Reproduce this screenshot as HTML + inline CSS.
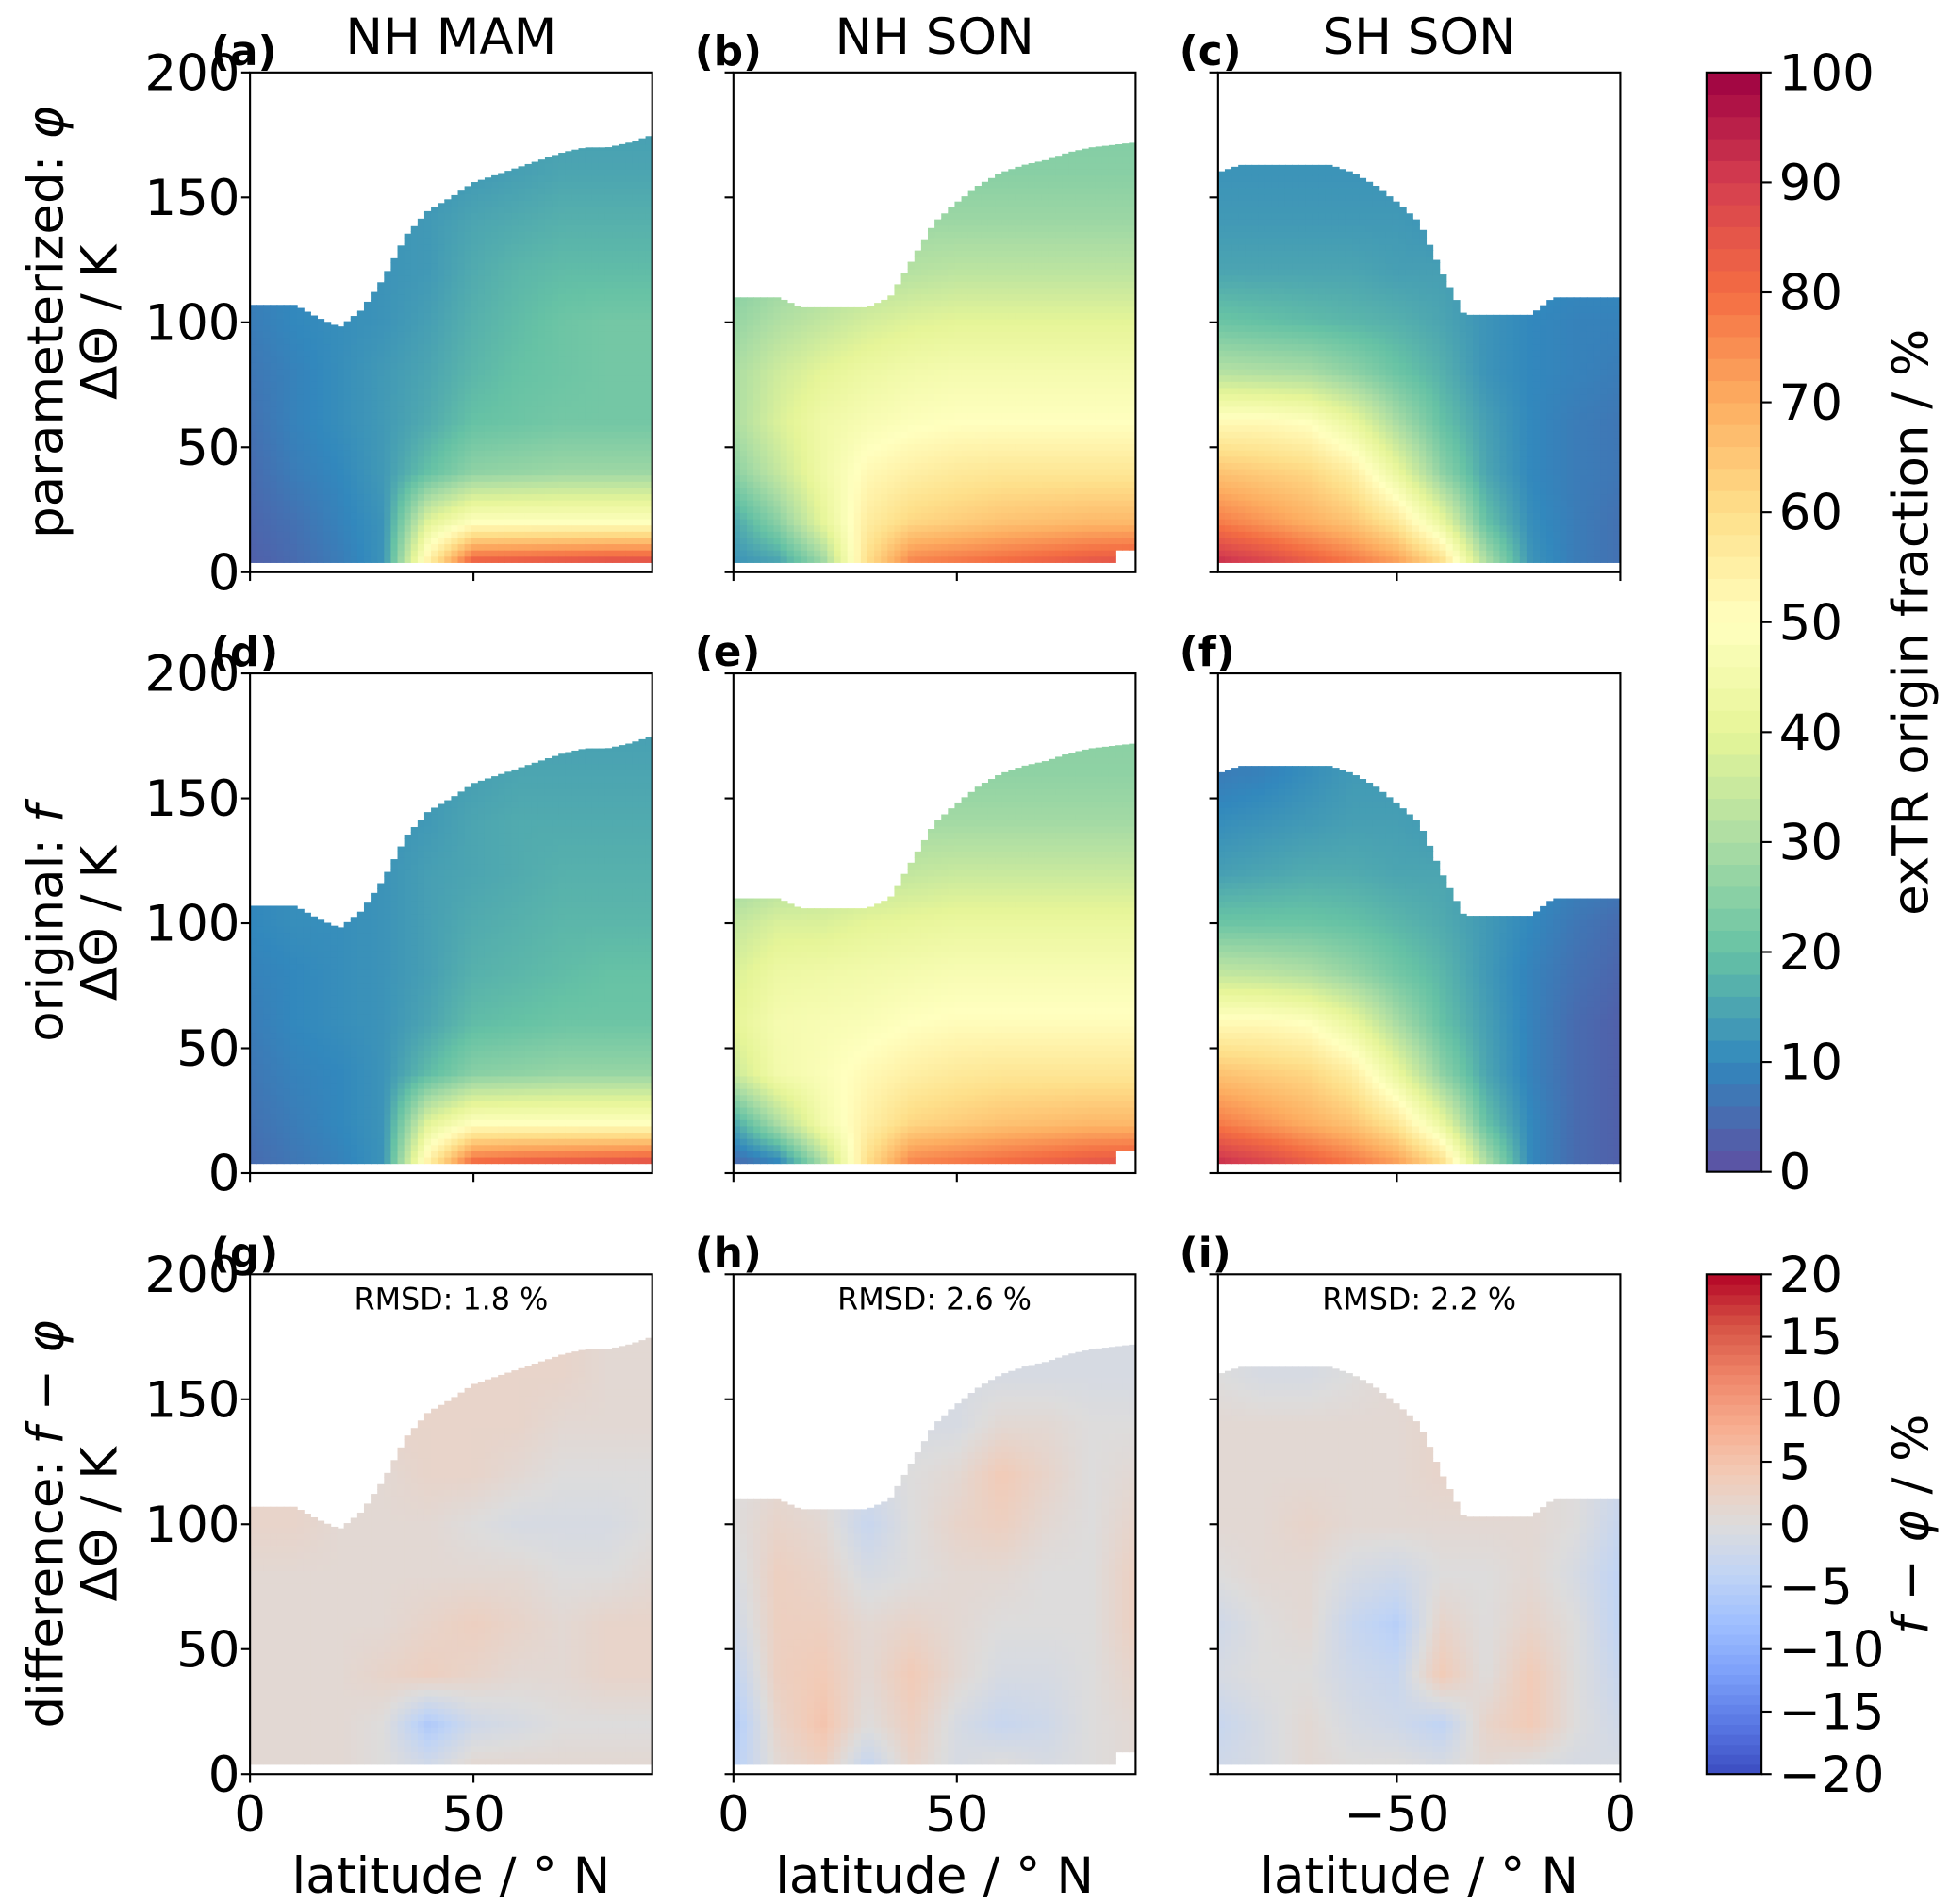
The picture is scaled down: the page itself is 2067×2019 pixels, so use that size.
<!DOCTYPE html>
<html><head><meta charset="utf-8"><style>
html,body{margin:0;padding:0;background:#fff}
svg{display:block}
text{font-family:"DejaVu Sans","Liberation Sans",sans-serif;fill:#000}
</style></head><body>
<svg id="fig" width="2067" height="2019" viewBox="0 0 1560 1524" xmlns="http://www.w3.org/2000/svg"></svg>
<script>
// ---- data ----
const thetaLevels=[5,20,40,60,80,100,120,140,160,180];
const latNH=[0,10,20,30,40,50,60,70,80,90];
const latSH=[-90,-80,-70,-60,-50,-40,-30,-20,-10,0];
const topA=[107,107,107,102,98,105,118,135,145,150,156,159,162,165,168,170,170,172,175];
const topB=[110,110,110,106,106,106,106,110,125,140,148,155,160,163,165,168,170,171,172];
const topC=[160,163,163,163,163,163,160,155,148,140,120,103,103,103,103,110,110,110,110];
const fieldA=[
[3,5,8,12,55,82,83,84,85,85],[4,6,9,12,40,50,50,50,50,50],[5,8,10,13,20,26,27,28,28,28],
[6,9,11,13,16,20,21,22,22,22],[7,9,11,13,15,18,20,21,22,22],[8,10,11,12,14,17,19,21,22,22],
[9,10,11,12,13,16,18,19,19,19],[9,10,11,12,13,15,16,17,17,17],[9,10,11,12,12,13,14,15,15,15],[9,10,11,12,12,13,14,14,14,14]];
const fieldD=[
[5,7,9,12,55,80,82,83,84,85],[6,8,10,12,40,50,50,50,50,50],[7,9,10,12,19,25,26,27,27,27],
[8,10,11,12,15,19,20,21,21,21],[9,10,11,12,14,17,18,19,20,20],[10,11,11,12,14,16,17,18,18,18],
[10,11,11,12,14,15,16,17,17,17],[10,11,11,12,13,15,16,16,16,16],[10,11,11,12,13,14,15,15,15,15],[9,10,11,12,12,13,14,14,14,14]];
const fieldB=[
[12,15,28,60,76,78,80,82,84,85],[15,25,40,56,62,64,66,67,68,68],[25,34,44,52,55,57,58,58,58,58],
[30,38,44,47,49,50,50,50,50,50],[30,36,40,43,45,46,46,46,46,46],[27,31,34,37,39,40,40,40,40,40],
[24,27,29,31,32,33,33,33,33,33],[22,24,26,27,28,28,28,28,28,28],[20,22,23,24,25,25,25,25,25,25],[19,21,22,23,24,24,24,24,24,24]];
const fieldE=[
[5,10,30,60,76,78,80,82,84,85],[15,30,45,55,62,64,66,67,68,68],[35,45,48,52,55,57,58,58,58,58],
[40,46,47,48,50,51,51,51,51,51],[38,43,44,45,46,47,47,47,47,47],[34,38,38,40,41,42,42,42,42,42],
[27,30,32,33,34,35,35,35,35,35],[24,26,27,28,29,29,29,29,29,29],[21,23,24,25,26,26,26,26,26,26],[20,22,23,24,25,25,25,25,25,25]];
const fieldC=[
[92,88,83,78,72,60,30,12,8,6],[78,74,70,66,58,42,20,11,8,6],[66,64,62,56,42,26,15,10,8,7],
[52,52,50,42,30,20,14,10,8,7],[32,31,30,26,21,17,12,10,9,8],[21,20,19,18,17,15,12,10,9,9],
[15,15,15,15,14,14,12,11,10,10],[13,13,13,13,13,12,12,11,10,10],[12,12,12,12,12,12,11,10,10,10],[12,12,12,12,12,12,11,10,10,10]];
const fieldF=[
[92,88,83,78,72,60,30,10,5,3],[78,74,70,66,58,42,20,10,5,3],[66,64,62,56,42,26,15,9,5,3],
[52,52,50,42,30,20,14,9,5,3],[34,33,31,27,22,18,13,9,6,4],[21,21,21,20,18,16,13,10,7,5],
[14,15,16,16,15,15,13,11,9,8],[11,12,13,14,14,13,12,11,10,10],[8,9,11,13,13,12,11,10,10,10],[8,9,11,13,13,12,11,10,10,10]];
const fieldG=[
[1,1,1,0,-2,1,1,1,1,1],[1,1,1,0,-6,-2,-1,0,0,0],[1,1,1,2,3,2,1,1,2,2],[1,1,1,1,2,3,2,1,2,2],
[1,1,1,1,1,1,1,0,0,1],[2,2,1,1,1,0,-1,-1,-1,0],[2,2,1,1,2,2,1,0,0,0],[2,2,2,2,2,2,2,1,1,1],
[2,2,2,2,2,2,2,2,1,1],[2,2,2,2,2,2,2,2,1,1]];
const fieldH=[
[-5,1,3,-3,2,-1,0,-1,0,1],[-6,2,5,0,3,-1,-3,-2,0,1],[-4,3,4,1,4,1,-1,-1,0,2],[-2,3,3,1,2,1,0,0,0,3],
[-1,3,2,-1,0,1,1,0,0,3],[0,2,1,-3,0,2,3,1,0,2],[0,1,0,-1,0,1,4,2,0,1],[0,0,0,0,-1,-1,1,1,0,0],
[0,0,0,0,-1,-1,-1,-1,-1,-1],[0,0,0,0,-1,-1,-1,-1,-1,-1]];
const fieldI=[
[-2,-1,1,0,0,-1,1,0,-1,-1],[-3,-1,1,-1,-2,-4,2,4,0,-2],[-1,0,0,-2,-3,4,0,4,0,-3],[-2,0,1,-3,-5,2,0,2,0,-4],
[0,1,1,-1,-2,0,0,1,-1,-4],[1,1,2,1,1,1,1,1,0,-3],[1,1,1,1,1,2,2,1,0,-2],[1,1,1,1,1,2,2,0,0,0],
[0,-1,-1,0,1,1,0,0,0,0],[0,-1,-1,0,1,1,0,0,0,0]];
const yTicks=[0,50,100,150,200];
const cb1Ticks=[0,10,20,30,40,50,60,70,80,90,100];
const cb2Ticks=[-20,-15,-10,-5,0,5,10,15,20];
const rmsd=["RMSD: 1.8 %","RMSD: 2.6 %","RMSD: 2.2 %"];

// ---- helpers ----
const NS="http://www.w3.org/2000/svg";
const svg=document.getElementById('fig');
function mk(tag,attrs,parent){const e=document.createElementNS(NS,tag);for(const k in attrs)e.setAttribute(k,attrs[k]);(parent||svg).appendChild(e);return e;}
function lerpHex(stops,t){t=Math.max(0,Math.min(1,t));const n=stops.length-1;let i=Math.min(n-1,Math.floor(t*n));const f=t*n-i;
 const a=stops[i],b=stops[i+1];const c=[0,1,2].map(k=>Math.round(a[k]+(b[k]-a[k])*f));return `rgb(${c[0]},${c[1]},${c[2]})`;}
const hx=s=>[parseInt(s.slice(1,3),16),parseInt(s.slice(3,5),16),parseInt(s.slice(5,7),16)];
const spectral=["#5e4fa2","#3288bd","#66c2a5","#abdda4","#e6f598","#ffffbf","#fee08b","#fdae61","#f46d43","#d53e4f","#9e0142"].map(hx);
const coolwarm=["#3b4cc0","#5977e3","#7b9ff9","#9ebeff","#c0d4f5","#dddcdc","#f2cbb7","#f7ac8e","#ee8468","#d65244","#b40426"].map(hx);
function bilinear(field,lats,lat,th){
 let i=0;while(i<lats.length-2&&lat>lats[i+1])i++;let fx=(lat-lats[i])/(lats[i+1]-lats[i]);fx=Math.max(0,Math.min(1,fx));
 let j=0;while(j<thetaLevels.length-2&&th>thetaLevels[j+1])j++;let fy=(th-thetaLevels[j])/(thetaLevels[j+1]-thetaLevels[j]);fy=Math.max(0,Math.min(1,fy));
 const v00=field[j][i],v10=field[j][i+1],v01=field[j+1][i],v11=field[j+1][i+1];
 return (v00*(1-fx)+v10*fx)*(1-fy)+(v01*(1-fx)+v11*fx)*fy;}
function topAt(tops,lat0,lat){const u=(lat-lat0)/5;const i=Math.max(0,Math.min(17,Math.floor(u)));const f=Math.max(0,Math.min(1,u-i));return tops[i]*(1-f)+tops[i+1]*f;}

const colX=[200,587,975], rowY=[58,539,1020], PW=322, PH=400;
const panels=[
 {r:0,c:0,f:fieldA,lats:latNH,tops:topA,lab:"(a)",cm:0,corner:false},
 {r:0,c:1,f:fieldB,lats:latNH,tops:topB,lab:"(b)",cm:0,corner:true},
 {r:0,c:2,f:fieldC,lats:latSH,tops:topC,lab:"(c)",cm:0,corner:false},
 {r:1,c:0,f:fieldD,lats:latNH,tops:topA,lab:"(d)",cm:0,corner:false},
 {r:1,c:1,f:fieldE,lats:latNH,tops:topB,lab:"(e)",cm:0,corner:true},
 {r:1,c:2,f:fieldF,lats:latSH,tops:topC,lab:"(f)",cm:0,corner:false},
 {r:2,c:0,f:fieldG,lats:latNH,tops:topA,lab:"(g)",cm:1,corner:false},
 {r:2,c:1,f:fieldH,lats:latNH,tops:topB,lab:"(h)",cm:1,corner:true},
 {r:2,c:2,f:fieldI,lats:latSH,tops:topC,lab:"(i)",cm:1,corner:false}];

panels.forEach((p,idx)=>{
 const x0=colX[p.c],y0=rowY[p.r],lat0=p.lats[0];
 const xs=lat=>x0+(lat-lat0)/90*PW, ys=th=>y0+PH-th/200*PH;
 const g=mk('g',{});
 
 
 const dl=1.5,dt=2.5;
 for(let lat=lat0;lat<lat0+90-1e-6;lat+=dl){
  const lc=lat+dl/2,top=topAt(p.tops,lat0,lc);
  for(let th=4;th<top;th+=dt){
   const tc=Math.min(th+dt/2,top);
   if(p.corner&&lc>lat0+86&&th<9)continue;
   const v=bilinear(p.f,p.lats,lc,tc);
   const col=p.cm===0?lerpHex(spectral,v/100):lerpHex(coolwarm,(v+20)/40);
   const th2=Math.min(th+dt,top);
   const r=mk('rect',{x:xs(lat).toFixed(2),y:ys(th2).toFixed(2),width:(dl/90*PW+0.6).toFixed(2),height:(ys(th)-ys(th2)+0.6).toFixed(2),fill:col},g);
   
   
  }
 }
 const fr=mk('rect',{x:x0,y:y0,width:PW,height:PH,fill:'none',stroke:'#000','stroke-width':1.6});
 
 
 yTicks.forEach(t=>{
  const tk=mk('line',{x1:x0-7,x2:x0,y1:ys(t),y2:ys(t),stroke:'#000','stroke-width':1.6});
  
  
  if(p.c===0){const tl=mk('text',{x:x0-8,y:ys(t)+14,'text-anchor':'end','font-size':40});tl.textContent=t;
   
   }
 });
 const xt=p.c===2?[-50,0]:[0,50];
 xt.forEach(t=>{
  const tk=mk('line',{x1:xs(t),x2:xs(t),y1:y0+PH,y2:y0+PH+7,stroke:'#000','stroke-width':1.6});
  
  
  if(p.r===2){const tl=mk('text',{x:xs(t),y:y0+PH+46,'text-anchor':'middle','font-size':40});tl.textContent=(t<0?'\u2212'+(-t):t);
   
   }
 });
 const pl=mk('text',{x:x0-31,y:y0-6,'font-size':33,'font-weight':'bold'});pl.textContent=p.lab;
 
 
 if(p.r===2){const rt=mk('text',{x:x0+PW/2,y:y0+28,'text-anchor':'middle','font-size':24});rt.textContent=rmsd[p.c];
  
  }
});
["NH MAM","NH SON","SH SON"].forEach((t,i)=>{const e=mk('text',{x:colX[i]+PW/2,y:43,'text-anchor':'middle','font-size':40});e.textContent=t;
 
 });
colX.forEach(x=>{const e=mk('text',{x:x+PW/2,y:1515,'text-anchor':'middle','font-size':40});e.textContent='latitude / \u00b0 N';
 
 });
const rowLab=[['parameterized: <tspan font-style="italic">φ</tspan>'],['original: <tspan font-style="italic">f</tspan>'],['difference: <tspan font-style="italic">f</tspan> − <tspan font-style="italic">φ</tspan>']];
rowY.forEach((y,i)=>{const cy=y+PH/2;
 const a=mk('text',{transform:`translate(50,${cy}) rotate(-90)`,'text-anchor':'middle','font-size':40});a.innerHTML=rowLab[i][0];
 
 
 const b=mk('text',{transform:`translate(93,${cy}) rotate(-90)`,'text-anchor':'middle','font-size':40});b.textContent='ΔΘ / K';
 
 });
// colorbars
function colorbar(y0,h,vmin,vmax,stops,ticks,label,name){
 const x0=1366,w=44,g=mk('g',{});
 
 
 const n=50;for(let i=0;i<n;i++){const v=vmin+(i+0.5)/n*(vmax-vmin);
  mk('rect',{x:x0,y:y0+h-(i+1)*h/n,width:w,height:h/n+0.6,fill:lerpHex(stops,(v-vmin)/(vmax-vmin))},g);}
 mk('rect',{x:x0,y:y0,width:w,height:h,fill:'none',stroke:'#000','stroke-width':1.6},g);
 ticks.forEach(t=>{const y=y0+h-(t-vmin)/(vmax-vmin)*h;
  mk('line',{x1:x0+w,x2:x0+w+8,y1:y,y2:y,stroke:'#000','stroke-width':1.6},g);
  const tl=mk('text',{x:x0+w+14,y:y+14,'font-size':40},g);tl.textContent=(t<0?'\u2212'+(-t):t);
  
  });
 const l=mk('text',{transform:`translate(1543,${y0+h/2}) rotate(-90)`,'text-anchor':'middle','font-size':40},g);l.innerHTML=label;
 
 
}
colorbar(58,880,0,100,spectral,cb1Ticks,'exTR origin fraction / %','colorbar-fraction');
colorbar(1020,400,-20,20,coolwarm,cb2Ticks,'<tspan font-style="italic">f</tspan> − <tspan font-style="italic">φ</tspan> / %','colorbar-difference');
</script>
</body></html>
